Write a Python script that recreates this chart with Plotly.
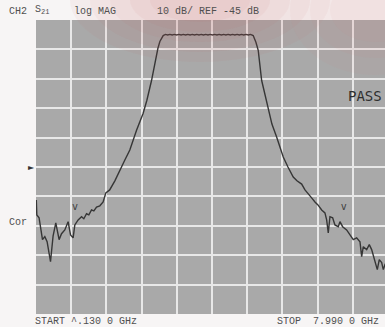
import plotly.graph_objects as go

# Trace: frequency (GHz) and S21 (dB)
freq_ghz = [0.137, 0.148, 0.199, 0.275, 0.327, 0.378, 0.454, 0.512, 0.572, 0.646,
            0.700, 0.773, 0.847, 0.901, 0.959, 0.997, 1.071, 1.147, 1.198, 1.258,
            1.310, 1.370, 1.421, 1.482, 1.555, 1.629, 1.689, 1.775, 1.891, 2.002,
            2.114, 2.225, 2.375, 2.523, 2.606, 2.711, 2.784, 2.851, 2.896, 2.970,
            3.02, 3.07, 3.12, 3.17, 3.22, 3.27, 3.32, 3.37, 3.42, 3.47,
            3.52, 3.57, 3.62, 3.67, 3.72, 3.77, 3.82, 3.87, 3.92, 3.97,
            4.02, 4.07, 4.12, 4.17, 4.22, 4.27, 4.32, 4.37, 4.42, 4.47,
            4.52, 4.57, 4.62, 4.67, 4.72, 4.77, 4.82, 4.87, 4.92, 4.951,
            4.980, 5.041, 5.092, 5.168, 5.242, 5.316, 5.398, 5.503, 5.577, 5.651,
            5.756, 5.874, 5.957, 6.062, 6.136, 6.203, 6.285, 6.359, 6.426, 6.509,
            6.582, 6.620, 6.656, 6.694, 6.754, 6.805, 6.879, 6.917, 6.977, 7.066,
            7.140, 7.214, 7.290, 7.364, 7.402, 7.438, 7.514, 7.572, 7.625, 7.699,
            7.751, 7.795, 7.849, 7.885, 7.923, 7.990]
s21_db = [-56.2, -61.3, -62.3, -69.7, -68.7, -70.4, -77.2, -68.4, -64.0, -69.7,
          -67.7, -66.4, -63.6, -68.1, -69.1, -64.7, -63.0, -61.9, -62.6, -60.9,
          -61.3, -59.6, -59.9, -58.6, -58.2, -56.9, -53.8, -52.8, -49.7, -46.0,
          -42.6, -39.2, -32.5, -26.7, -22.3, -15.5, -9.7, -4.7, -2.3, -0.3,
          0.1, -0.1, 0.1, -0.1, 0.1, -0.1, 0.1, -0.1, 0.1, -0.1,
          0.1, -0.1, 0.1, -0.1, 0.1, -0.1, 0.1, -0.1, 0.1, -0.1,
          0.1, -0.1, 0.1, -0.1, 0.1, -0.1, 0.1, -0.1, 0.1, -0.1,
          0.1, -0.1, 0.1, -0.1, 0.1, -0.1, 0.1, -0.1, 0.1, 0.0,
          -0.3, -2.6, -5.3, -15.5, -20.6, -25.7, -30.4, -34.8, -38.6, -41.6,
          -45.0, -48.4, -49.7, -50.8, -52.8, -54.2, -55.5, -56.9, -57.9, -59.6,
          -60.6, -63.0, -67.4, -61.9, -62.3, -64.7, -65.3, -63.6, -65.3, -66.4,
          -68.1, -69.7, -69.1, -70.4, -75.5, -72.1, -73.1, -71.4, -73.1, -77.5,
          -79.9, -76.5, -77.5, -79.9, -78.2, -79.2]

marker_freq_ghz = [1.0, 7.0]
marker_sym_db = [-58.9, -58.9]

start_ghz = 0.130
stop_ghz = 7.990
ref_db = -45
scale_db = 10

# layout geometry
W, H = 385, 327
ML, MR, MT, MB = 36, 0, 20, 13
PW, PH = W - ML - MR, H - MT - MB
span = stop_ghz - start_ghz
full_w = 352.0  # grid width in px (grid extends slightly past the window)
x_max = start_ghz + span * PW / full_w


def px(x):
    return (x - ML) / PW


def py(y):
    return (H - MB - y) / PH


fig = go.Figure()
fig.add_trace(go.Scatter(x=freq_ghz, y=s21_db, mode="lines",
                         line=dict(color="#363636", width=1.4),
                         hoverinfo="skip", showlegend=False))
fig.add_trace(go.Scatter(x=marker_freq_ghz, y=marker_sym_db, mode="text",
                         text=["v", "v"],
                         textfont=dict(family="DejaVu Sans Mono", size=10, color="#404040"),
                         hoverinfo="skip", showlegend=False))

font = dict(family="Liberation Mono", size=10, color="#505050")
ann = []


def label(text, x, y, f=font, anchor="left"):
    ann.append(dict(text=text, x=px(x), y=py(y), xref="paper", yref="paper",
                    xanchor=anchor, yanchor="middle", showarrow=False, font=f))


label("CH2", 7, 11)
label("S<sub>21</sub>", 33, 10)
label("log MAG", 72, 11)
label("10 dB/", 155, 11)
label("REF -45 dB", 197, 11)
label("START ^.130 0 GHz", 33, 321)
label("STOP  7.990 0 GHz", 275, 321)
label("Cor", 7, 222)
label("PASS", 346, 96, dict(family="DejaVu Sans Mono", size=14, color="#2e2e2e"))
label("►", 31, 167, dict(family="DejaVu Sans", size=8, color="#333333"), anchor="center")

# soft reddish glare of the photographed screen
shapes = []
for rx, ry in [(130, 62), (110, 52), (90, 42), (70, 32), (50, 22)]:
    cx, cy = 200, 0
    shapes.append(dict(type="circle", xref="paper", yref="paper", layer="above",
                       x0=px(cx - rx), x1=px(cx + rx), y0=py(cy + ry), y1=py(cy - ry),
                       fillcolor="rgba(200,90,100,0.055)", line=dict(width=0)))
for rx, ry in [(85, 65), (65, 48), (45, 32)]:
    cx, cy = 375, 10
    shapes.append(dict(type="circle", xref="paper", yref="paper", layer="above",
                       x0=px(cx - rx), x1=px(cx + rx), y0=py(cy + ry), y1=py(cy - ry),
                       fillcolor="rgba(220,120,130,0.055)", line=dict(width=0)))

fig.update_layout(
    width=W, height=H,
    margin=dict(l=ML, r=MR, t=MT, b=MB),
    paper_bgcolor="#f7f5f5",
    plot_bgcolor="#a9a9a9",
    annotations=ann,
    shapes=shapes,
    xaxis=dict(range=[start_ghz, x_max], tick0=start_ghz, dtick=span / 10,
               showgrid=True, gridcolor="#e8e8e8", gridwidth=2,
               showticklabels=False, zeroline=False, ticks="", fixedrange=True),
    yaxis=dict(range=[ref_db - 5 * scale_db, ref_db + 5 * scale_db],
               tick0=ref_db - 5 * scale_db, dtick=scale_db,
               showgrid=True, gridcolor="#e8e8e8", gridwidth=2,
               showticklabels=False, zeroline=False, ticks="", fixedrange=True),
)

fig.write_html("out.html")
